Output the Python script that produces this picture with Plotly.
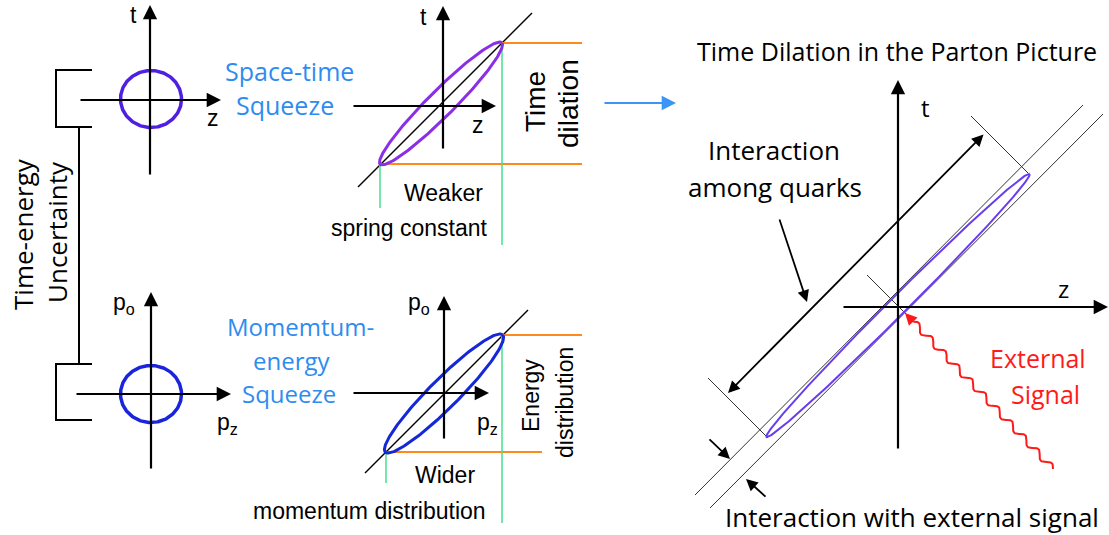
import numpy as np
import plotly.graph_objects as go

W, H = 1109, 535

# ---------------- geometry (pixel coordinates of the drawing) ----------------
# axis arrows: (x_tail, y_tail, x_tip, y_tip)
axis_arrows = [
    (150, 176, 150, 5), (79, 100, 221, 100),        # top-left  t, z
    (443, 150, 443, 6), (352, 106, 496, 106),       # top-right t, z
    (151, 470, 151, 292), (75, 394, 231, 394),      # bottom-left p0, pz
    (444, 440, 444, 296), (352, 393, 489, 393),     # bottom-right p0, pz
    (898, 450, 898, 80), (842, 307, 1108, 307),     # parton picture t, z
]
# thin diagonal (light-cone) lines
diag_lines = [(358, 187, 532, 13), (365, 473, 528, 310)]
# circles: (cx, cy, rx, ry, colour)
circles = [(151, 99, 30.5, 28.5, "#4f1fe3"), (151, 394, 30.5, 28.5, "#1a24dc")]
# squeezed ellipses: (cx, cy, semi-major, semi-minor, colour, width)
ellipses = [
    (441, 103.5, 86, 13, "#8b2fe6", 3),
    (444, 393.5, 83, 14.5, "#1428d8", 3),
    (898, 305.5, 186, 9, "#6a3cf0", 2),
]
orange_lines = [(502, 43, 582, 43), (380, 164, 582, 164),
                (502, 335, 582, 335), (386, 452, 542, 452)]
green_lines = [(380, 164, 380, 208), (502, 43, 502, 245),
               (386, 452, 386, 483), (502, 335, 502, 523)]
bracket_paths = [
    [(92, 70), (56, 70), (56, 127), (92, 127)],
    [(79, 127), (79, 364)],
    [(92, 364), (56, 364), (56, 420), (92, 420)],
]
thin_lines = [(695, 495, 1083, 105), (710, 508, 1103, 114),
              (971, 116, 1028, 173), (708, 378, 768, 438), (867, 275, 906, 314)]
# black pointer arrows: (x_tail, y_tail, x_tip, y_tip, both_ends)
pointer_arrows = [
    (779, 218, 807, 302, False),
    (708, 438, 730, 459, False),
    (767, 498, 746, 479, False),
    (985, 133, 728, 393, True),
]
blue_arrow = (603, 103, 676, 103)
# external signal: wavy red line from start (bottom) to end (arrow tip)
signal_start = (1053, 469)
signal_end = (905, 313)
signal_cycles = 10.5
signal_amp = 3.2

# ---------------- texts ----------------
MYR = "Open Sans, Noto Sans, sans-serif"
ARI = "Liberation Sans, Arial, sans-serif"
BLUE_TXT = "#2e8cf0"
texts = [
    # (text, x, y, size, colour, font, angle)
    ("t", 133, 15, 23, "black", ARI, 0),
    ("z", 213, 118, 23, "black", ARI, 0),
    ("t", 423, 17, 23, "black", ARI, 0),
    ("z", 478, 125, 23, "black", ARI, 0),
    ("p<sub>o</sub>", 124, 303, 23, "black", ARI, 0),
    ("p<sub>z</sub>", 227, 423, 23, "black", ARI, 0),
    ("p<sub>o</sub>", 419, 303, 23, "black", ARI, 0),
    ("p<sub>z</sub>", 487, 423, 23, "black", ARI, 0),
    ("t", 925, 107, 24, "black", MYR, 0),
    ("z", 1063, 288, 24, "black", MYR, 0),
    ("Space-time", 289, 71, 25, BLUE_TXT, MYR, 0),
    ("Squeeze", 285, 105, 25, BLUE_TXT, MYR, 0),
    ("Momemtum-", 300, 326, 24, BLUE_TXT, MYR, 0),
    ("energy", 292, 360, 24, BLUE_TXT, MYR, 0),
    ("Squeeze", 289, 393, 24, BLUE_TXT, MYR, 0),
    ("Time", 535, 102, 28, "black", ARI, -90),
    ("dilation", 568, 104, 28, "black", ARI, -90),
    ("Energy", 531, 396, 23, "black", ARI, -90),
    ("distribution", 565, 403, 23, "black", ARI, -90),
    ("Weaker", 443, 193, 23, "black", ARI, 0),
    ("spring constant", 409, 228, 23, "black", ARI, 0),
    ("Wider", 445, 475, 23, "black", ARI, 0),
    ("momentum distribution", 369, 511, 23, "black", ARI, 0),
    ("Time-energy", 23, 234, 26, "black", MYR, -90),
    ("Uncertainty", 57, 232, 26, "black", MYR, -90),
    ("Time Dilation in the Parton Picture", 897, 51, 25, "black", MYR, 0),
    ("Interaction", 774, 150, 26, "black", MYR, 0),
    ("among quarks", 775, 187, 26, "black", MYR, 0),
    ("External", 1038, 358, 25, "#ff1a1a", MYR, 0),
    ("Signal", 1045, 394, 25, "#ff1a1a", MYR, 0),
    ("Interaction with external signal", 912, 517, 26, "black", MYR, 0),
]

# ---------------- build figure ----------------
fig = go.Figure()


def seg_trace(segs, color, width):
    xs, ys = [], []
    for x0, y0, x1, y1 in segs:
        xs += [x0, x1, None]
        ys += [y0, y1, None]
    fig.add_trace(go.Scatter(x=xs, y=ys, mode="lines", hoverinfo="skip",
                             line=dict(color=color, width=width)))


seg_trace(thin_lines, "#333333", 1)
seg_trace(diag_lines, "black", 1.5)
seg_trace(orange_lines, "#ff8a1c", 2)
seg_trace(green_lines, "#47df8c", 1.5)

bx, by = [], []
for path in bracket_paths:
    for px, py in path:
        bx.append(px)
        by.append(py)
    bx.append(None)
    by.append(None)
fig.add_trace(go.Scatter(x=bx, y=by, mode="lines", hoverinfo="skip",
                         line=dict(color="black", width=2)))

th = np.linspace(0, 2 * np.pi, 241)
for cx, cy, rx, ry, col in circles:
    fig.add_trace(go.Scatter(x=cx + rx * np.cos(th), y=cy + ry * np.sin(th),
                             mode="lines", hoverinfo="skip",
                             line=dict(color=col, width=3.5)))

u = np.array([1, -1]) / np.sqrt(2)
v = np.array([1, 1]) / np.sqrt(2)
for cx, cy, a, b, col, w in ellipses:
    px = cx + a * np.cos(th) * u[0] + b * np.sin(th) * v[0]
    py = cy + a * np.cos(th) * u[1] + b * np.sin(th) * v[1]
    fig.add_trace(go.Scatter(x=px, y=py, mode="lines", hoverinfo="skip",
                             line=dict(color=col, width=w)))

# wavy signal
sx0, sy0 = signal_start
sx1, sy1 = signal_end
d = np.array([sx1 - sx0, sy1 - sy0], float)
L = np.hypot(*d)
dn = d / L
nrm = np.array([-dn[1], dn[0]])
s = np.linspace(0, L - 12, 600)
wav = signal_amp * np.sin(2 * np.pi * signal_cycles * s / (L - 12))
wx = sx0 + dn[0] * s + nrm[0] * wav
wy = sy0 + dn[1] * s + nrm[1] * wav
fig.add_trace(go.Scatter(x=wx, y=wy, mode="lines", hoverinfo="skip",
                         line=dict(color="#ff1a1a", width=2)))

annotations = []
for x0, y0, x1, y1 in axis_arrows:
    annotations.append(dict(x=x1, y=y1, ax=x0, ay=y0, xref="x", yref="y",
                            axref="x", ayref="y", text="", showarrow=True,
                            arrowhead=2, arrowsize=1.3, arrowwidth=2.2,
                            arrowcolor="black", standoff=0, startstandoff=0))
for x0, y0, x1, y1, both in pointer_arrows:
    annotations.append(dict(x=x1, y=y1, ax=x0, ay=y0, xref="x", yref="y",
                            axref="x", ayref="y", text="", showarrow=True,
                            arrowhead=2, startarrowhead=2, arrowsize=1.3,
                            startarrowsize=1.3,
                            arrowside="end+start" if both else "end",
                            arrowwidth=1.8, arrowcolor="black",
                            standoff=0, startstandoff=0))
x0, y0, x1, y1 = blue_arrow
annotations.append(dict(x=x1, y=y1, ax=x0, ay=y0, xref="x", yref="y",
                        axref="x", ayref="y", text="", showarrow=True,
                        arrowhead=2, arrowsize=1.3, arrowwidth=2.2,
                        arrowcolor="#3a95f5", standoff=0))
# red arrow head at the end of the wavy line
annotations.append(dict(x=sx1, y=sy1, ax=sx1 - dn[0] * 14, ay=sy1 - dn[1] * 14,
                        xref="x", yref="y", axref="x", ayref="y", text="",
                        showarrow=True, arrowhead=2, arrowsize=1.2,
                        arrowwidth=2, arrowcolor="#ff1a1a", standoff=0))

for txt, x, y, size, col, fam, ang in texts:
    annotations.append(dict(x=x, y=y, xref="x", yref="y", text=txt,
                            showarrow=False, textangle=ang,
                            xanchor="center", yanchor="middle",
                            font=dict(size=size, color=col, family=fam)))

fig.update_layout(
    width=W, height=H, margin=dict(l=0, r=0, t=0, b=0),
    paper_bgcolor="white", plot_bgcolor="white", showlegend=False,
    xaxis=dict(range=[0, W], visible=False, fixedrange=True),
    yaxis=dict(range=[H, 0], visible=False, fixedrange=True),
    annotations=annotations,
)

fig.write_html(
    "out.html",
    config={"displayModeBar": False},
    post_script="document.body.style.margin='0';"
                "document.body.style.overflow='hidden';",
)
